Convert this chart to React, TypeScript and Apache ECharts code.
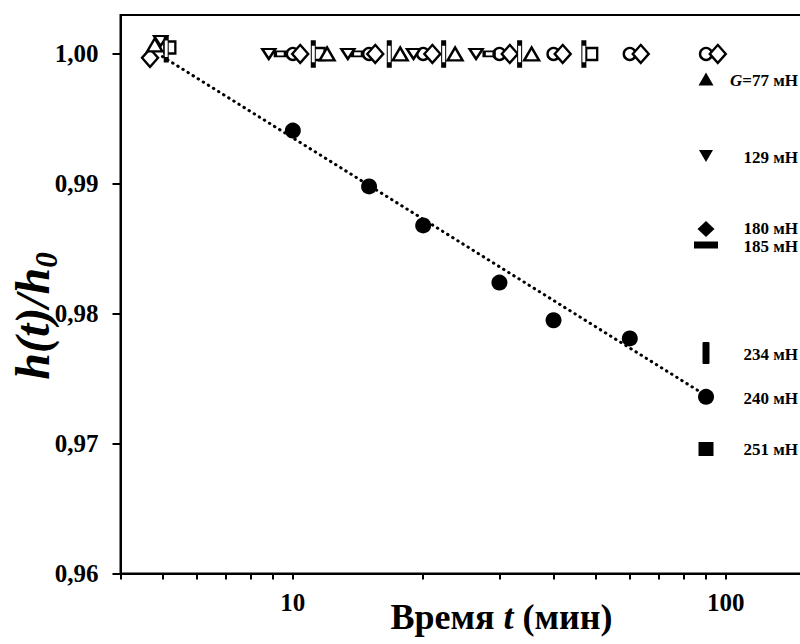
import React, { useEffect, useRef } from "react";
import * as echarts from "echarts";

// Axis ticks / labels
const xTickValues = [4, 5, 6, 7, 8, 9, 10, 20, 30, 40, 50, 60, 70, 80, 90, 100, 200];
const xLabelValues = [10, 100];
const yTickValues = [0.96, 0.97, 0.98, 0.99, 1.0];

// 240 mN (filled circles)
const t240 = [10, 15, 20, 30, 40, 60, 90];
const h240 = [0.9941, 0.9898, 0.9868, 0.9824, 0.9795, 0.9781, 0.9736];
// dotted trend line
const trendT = [5, 90];
const trendH = [0.9998, 0.9737];

// open markers (h = h0)
const t77 = [4.8, 12.0, 17.7, 23.7, 35.6];
const h77 = [1.0007, 1.0, 1.0, 1.0, 1.0];
const t129 = [4.95, 8.8, 13.4, 19.0, 26.5];
const h129 = [1.001, 1.0, 1.0, 1.0, 1.0];
const t180 = [4.68, 10.4, 15.5, 21.0, 31.7, 42.0, 63.6, 95.8];
const h180 = [0.9997, 1.0, 1.0, 1.0, 1.0, 1.0, 1.0, 1.0];
const t185 = [9.36, 14.1, 28.4];
const h185 = [1.0, 1.0, 1.0];
const t234 = [5.1, 11.15, 16.7, 22.3, 33.4, 47.0];
const h234 = [1.0004, 1.0, 1.0, 1.0, 1.0, 1.0];
const t251 = [5.2, 11.5, 49.0];
const h251 = [1.0005, 1.0, 1.0];
const tRef = [10, 15, 20, 30, 40, 60, 90];
const hRef = [1.0, 1.0, 1.0, 1.0, 1.0, 1.0, 1.0];

const FONT = "'Liberation Serif', 'Times New Roman', serif";

const pairs = (t: number[], h: number[]) => t.map((v, i) => [v, h[i]]);

const openSeries = (name: string, t: number[], h: number[], symbol: string, size: any, rotate = 0) => ({
  name,
  type: "scatter",
  data: pairs(t, h),
  symbol,
  symbolSize: size,
  symbolRotate: rotate,
  itemStyle: { color: "#fff", borderColor: "#000", borderWidth: 2.4, opacity: 1 },
  emphasis: { disabled: true },
});

const legendText = (text: string, y: number, rich?: any) => ({
  type: "text",
  x: 798,
  y,
  style: {
    text,
    fill: "#000",
    font: `bold 17px ${FONT}`,
    fontFamily: FONT,
    fontWeight: "bold",
    fontSize: 17,
    lineHeight: 17,
    align: "right",
    verticalAlign: "middle",
    textAlign: "right",
    textVerticalAlign: "middle",
    rich,
  },
});

export default function App() {
  const ref = useRef<HTMLDivElement>(null);
  useEffect(() => {
    const chart = echarts.init(ref.current!, null, { renderer: "svg" });
    const cx = 706;
    const option: any = {
      animation: false,
      grid: {
        left: 120.5,
        top: 15,
        width: 762,
        height: 558.5,
        show: true,
        borderColor: "#000",
        borderWidth: 2,
        backgroundColor: "transparent",
        outerBoundsMode: "none",
        containLabel: false,
      },
      xAxis: {
        type: "log",
        min: 4,
        max: 230,
        logBase: 10,
        axisLine: { lineStyle: { color: "#000", width: 2 } },
        axisTick: {
          show: true,
          inside: false,
          length: 6,
          customValues: xTickValues,
          lineStyle: { color: "#000", width: 2 },
        },
        minorTick: { show: false },
        splitLine: { show: false },
        axisLabel: {
          customValues: xLabelValues,
          color: "#000",
          fontFamily: FONT,
          fontWeight: "bold",
          fontSize: 25,
          margin: 16,
        },
        name: "{a|Время }{b|t}{a| (мин)}",
        nameLocation: "middle",
        nameGap: 25,
        nameMoveOverlap: false,
        nameTextStyle: {
          rich: {
            a: { fontFamily: FONT, fontWeight: "bold", fontSize: 36, color: "#000" },
            b: { fontFamily: FONT, fontWeight: "bold", fontStyle: "italic", fontSize: 36, color: "#000" },
          },
        },
      },
      yAxis: {
        type: "value",
        min: 0.96,
        max: 1.003,
        interval: 0.01,
        axisLine: { show: true, lineStyle: { color: "#000", width: 2 } },
        axisTick: {
          show: true,
          inside: false,
          length: 8,
          customValues: yTickValues,
          lineStyle: { color: "#000", width: 2 },
        },
        splitLine: { show: false },
        axisLabel: {
          customValues: yTickValues,
          color: "#000",
          fontFamily: FONT,
          fontWeight: "bold",
          fontSize: 25,
          margin: 22,
          formatter: (v: number) => v.toFixed(2).replace(".", ","),
        },
      },
      graphic: [
        {
          type: "text",
          x: 32,
          y: 316,
          rotation: Math.PI / 2,
          style: {
            text: "{a|h(t)/h}{s|0}",
            fill: "#000",
            align: "center",
            verticalAlign: "middle",
            textAlign: "center",
            textVerticalAlign: "middle",
            rich: {
              a: { fontFamily: FONT, fontWeight: "bold", fontStyle: "italic", fontSize: 48, lineHeight: 60, verticalAlign: "middle", fill: "#000" },
              s: { fontFamily: FONT, fontWeight: "bold", fontStyle: "italic", fontSize: 31, lineHeight: 60, verticalAlign: "bottom", fill: "#000" },
            },
          },
        },
        // legend symbols
        { type: "polygon", shape: { points: [[cx, 72.5], [cx + 7.5, 85.5], [cx - 7.5, 85.5]] }, style: { fill: "#000" } },
        { type: "polygon", shape: { points: [[cx - 7, 150], [cx + 7, 150], [cx, 162]] }, style: { fill: "#000" } },
        { type: "polygon", shape: { points: [[cx, 221], [cx + 8.5, 229], [cx, 237], [cx - 8.5, 229]] }, style: { fill: "#000" } },
        { type: "rect", shape: { x: cx - 12, y: 241.5, width: 24, height: 7 }, style: { fill: "#000" } },
        { type: "rect", shape: { x: cx - 3.5, y: 342, width: 7, height: 22, r: 1 }, style: { fill: "#000" } },
        { type: "rect", shape: { x: cx - 7.5, y: 442, width: 15, height: 14 }, style: { fill: "#000" } },
        legendText("{i|G}{n|=77 мН}", 80, {
          i: { fontFamily: FONT, fontWeight: "bold", fontStyle: "italic", fontSize: 17, lineHeight: 17, fill: "#000" },
          n: { fontFamily: FONT, fontWeight: "bold", fontSize: 17, lineHeight: 17, fill: "#000" },
        }),
        legendText("129 мН", 157),
        legendText("180 мН", 228),
        legendText("185 мН", 246),
        legendText("234 мН", 354),
        legendText("240 мН", 398),
        legendText("251 мН", 449),
      ],
      series: [
        {
          name: "trend",
          type: "line",
          data: pairs(trendT, trendH),
          symbol: "none",
          lineStyle: { color: "#000", width: 3, type: [0.5, 5.5], cap: "round" },
          emphasis: { disabled: true },
        },
        openSeries("ref", tRef, hRef, "circle", 12),
        openSeries("185 мН", t185, h185, "rect", [10, 5]),
        openSeries("129 мН", t129, h129, "triangle", [13, 10], 180),
        openSeries("180 мН", t180, h180, "diamond", [16, 18]),
        openSeries("251 мН", t251, h251, "rect", [11, 12]),
        openSeries("234 мН", t234, h234, "rect", [4, 22]),
        openSeries("77 мН", t77, h77, "triangle", [15, 13]),
        {
          name: "240 мН",
          type: "scatter",
          data: pairs(t240, h240),
          symbol: "circle",
          symbolSize: 16,
          itemStyle: { color: "#000", opacity: 1 },
          emphasis: { disabled: true },
        },
      ],
    };
    chart.setOption(option);
    return () => chart.dispose();
  }, []);
  return (
    <div style={{ position: "fixed", left: 0, top: 0, width: 800, height: 644, overflow: "hidden", background: "#fff" }}>
      <div ref={ref} style={{ width: 900, height: 644 }} />
    </div>
  );
}
